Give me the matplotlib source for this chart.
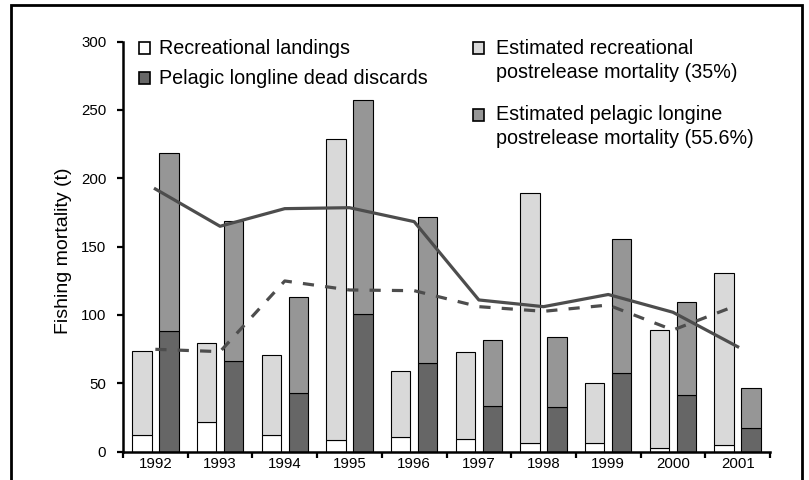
import numpy as np
import matplotlib
matplotlib.use("Agg")
import matplotlib.pyplot as plt
from matplotlib.patches import Rectangle

plt.rcParams["font.family"] = "Liberation Sans"

years = ["1992", "1993", "1994", "1995", "1996", "1997", "1998", "1999", "2000", "2001"]

# recreational bar: landings (bottom) + estimated postrelease mortality (top)
rec_landings = [12.2, 21.5, 12.2, 8.6, 10.5, 9.3, 6.4, 6.4, 2.5, 4.7]
rec_total = [73.7, 79.8, 70.7, 229, 59, 72.7, 189, 50.5, 88.8, 131]

# longline bar: dead discards (bottom) + estimated postrelease mortality (top)
pll_discards = [88.5, 66.6, 42.7, 100.7, 64.7, 33.4, 32.5, 57.6, 41.5, 17.6]
pll_total = [218.7, 169, 113, 257, 171.5, 82, 84.1, 155.6, 109.7, 46.8]

line_solid = [192.2, 164.9, 177.8, 178.5, 168.3, 111, 106.1, 115, 102, 76.8]
line_dashed = [74.9, 73.2, 124.9, 118.3, 117.8, 106.1, 102.7, 107.3, 89, 107.3]

labels = [
    "Recreational landings",
    "Pelagic longline dead discards",
    "Estimated recreational\npostrelease mortality (35%)",
    "Estimated pelagic longine\npostrelease mortality (55.6%)",
]

c_white = "#ffffff"
c_dark = "#666666"
c_light = "#d9d9d9"
c_mid = "#969696"
c_line = "#4d4d4d"

W, H = 809, 480
fig = plt.figure(figsize=(W / 100, H / 100), dpi=100)
ax = fig.add_axes([123 / W, 1 - 451.7 / H, 647 / W, 410.1 / H])

x = np.arange(len(years)) + 0.5
rec_est = np.array(rec_total) - np.array(rec_landings)
pll_est = np.array(pll_total) - np.array(pll_discards)
bw = 0.3
kw = dict(width=bw, edgecolor="black", linewidth=0.8)

ax.bar(x - 0.208, rec_landings, color=c_white, **kw)
ax.bar(x - 0.208, rec_est, bottom=rec_landings, color=c_light, **kw)
ax.bar(x + 0.208, pll_discards, color=c_dark, **kw)
ax.bar(x + 0.208, pll_est, bottom=pll_discards, color=c_mid, **kw)

ax.plot(x, line_solid, color=c_line, lw=2.3)
ax.plot(x, line_dashed, color=c_line, lw=2.3, dashes=(3.5, 3.5))

ax.set_xlim(0, len(years))
ax.set_ylim(0, 300)
ax.set_yticks(range(0, 301, 50))
ax.set_xticks(range(len(years) + 1))
ax.set_xticklabels([])
ax.set_xticks(x, minor=True)
ax.set_xticklabels(years, minor=True, fontsize=10.8)
ax.tick_params(axis="x", which="minor", length=0, pad=4)
ax.tick_params(axis="both", which="major", direction="out", length=4.5, width=1.6,
               labelsize=10.8)
ax.tick_params(axis="y", pad=7.5)
for side in ["top", "right"]:
    ax.spines[side].set_visible(False)
for side in ["left", "bottom"]:
    ax.spines[side].set_linewidth(1.8)

ax.set_ylabel("Fishing mortality (t)", fontsize=14)
ax.yaxis.set_label_coords((72 - 123) / 647, 0.49)

# legend drawn by hand so that the box sits next to the first line of text
legend_pos = [(138.5, [48]), (138.5, [78]), (473, [48, 73]), (473, [115, 139])]
colors = [c_white, c_dark, c_light, c_mid]
for (lx, ys), col, lab in zip(legend_pos, colors, labels):
    fig.patches.append(Rectangle((lx / W, 1 - (ys[0] + 6) / H), 11.5 / W, 12 / H,
                                 transform=fig.transFigure, facecolor=col,
                                 edgecolor="black", linewidth=1.2))
    dx = 20.5 if lx < 300 else 23
    for yy, line in zip(ys, lab.split("\n")):
        fig.text((lx + dx) / W, 1 - yy / H, line, va="center", ha="left", fontsize=14.2)

# frame around the whole figure
fig.patches.append(Rectangle((11 / W, -0.02), 791 / W, 1.02 - 5 / H, transform=fig.transFigure,
                             fill=False, edgecolor="black", linewidth=2))

fig.savefig("out.png", dpi=100)
